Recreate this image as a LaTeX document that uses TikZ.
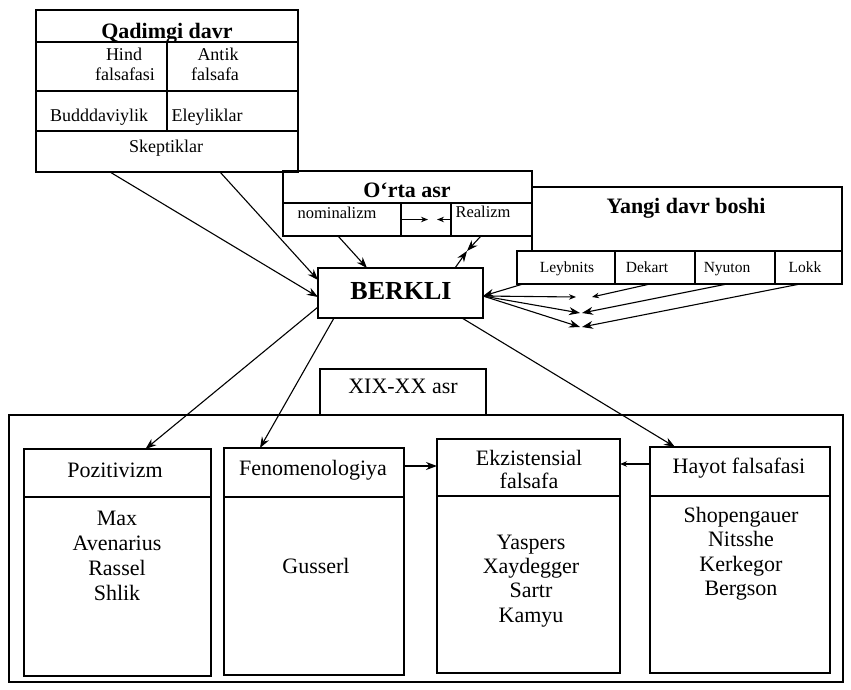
\documentclass[tikz,border=0pt]{standalone}
\usepackage{fontspec}
\setmainfont{Liberation Serif}
\usetikzlibrary{arrows.meta}
\begin{document}
\begin{tikzpicture}[x=1pt,y=-1pt,
  box/.style={draw, line width=1.3pt, inner sep=0pt, outer sep=0pt, anchor=north west},
  txt/.style={inner sep=0pt, anchor=base},
  arr/.style={line width=1.1pt, -{Stealth[length=11pt,width=8pt]}},
  sarr/.style={line width=1.1pt, -{Stealth[length=7pt,width=5.5pt]}},
  ttl/.style={font=\fontsize{22}{26}\selectfont\bfseries},
  qs/.style={font=\fontsize{18}{21}\selectfont},
  os/.style={font=\fontsize{16.5}{19}\selectfont},
  ys/.style={font=\fontsize{15.5}{18}\selectfont},
  bs/.style={font=\fontsize{22}{26}\selectfont}]
\useasboundingbox (0,0) rectangle (851,689);
% ---------- Qadimgi davr ----------
\node[box, minimum width=262pt, minimum height=32pt] (qT) at (36,10) {};
\node[box, minimum width=131pt, minimum height=49pt] (qHind) at (36,42) {};
\node[box, minimum width=131pt, minimum height=49pt] (qAnt) at (167,42) {};
\node[box, minimum width=131pt, minimum height=40pt] (qBud) at (36,91) {};
\node[box, minimum width=131pt, minimum height=40pt] (qEle) at (167,91) {};
\node[box, minimum width=262pt, minimum height=41pt] (skep) at (36,131) {};
\node[txt, ttl] (tQ) at (167,38) {Qadimgi davr};
\node[txt, qs] (tH1) at (124,60) {Hind};
\node[txt, qs] (tH2) at (125,80) {falsafasi};
\node[txt, qs] (tA1) at (218,60) {Antik};
\node[txt, qs] (tA2) at (215,80) {falsafa};
\node[txt, qs] (tB) at (99,121) {Budddaviylik};
\node[txt, qs] (tE) at (207,121) {Eleyliklar};
\node[txt, qs] (tS) at (166,152) {Skeptiklar};
% ---------- O'rta asr ----------
\node[box, minimum width=249pt, minimum height=32pt] (oT) at (283,171) {};
\node[box, minimum width=118pt, minimum height=33pt] (nom) at (283,203) {};
\node[box, minimum width=50pt, minimum height=33pt] (omid) at (401,203) {};
\node[box, minimum width=81pt, minimum height=33pt] (real) at (451,203) {};
\node[txt, ttl] (tO) at (407,197) {O‘rta asr};
\node[txt, os] (tN) at (337,218) {nominalizm};
\node[txt, os] (tR) at (483,217) {Realizm};
\coordinate (om1) at (428,219.5);
\coordinate (om2) at (437,219.5);
\draw[sarr] (omid.west) -- (om1);
\draw[sarr] (omid.east) -- (om2);
% ---------- Yangi davr boshi ----------
\node[box, minimum width=310pt, minimum height=64pt] (yT) at (532,187) {};
\node[box, minimum width=98pt, minimum height=33pt] (leyb) at (517,251) {};
\node[box, minimum width=80pt, minimum height=33pt] (dek) at (615,251) {};
\node[box, minimum width=80pt, minimum height=33pt] (nyu) at (695,251) {};
\node[box, minimum width=67pt, minimum height=33pt] (lokk) at (775,251) {};
\node[txt, font=\fontsize{22}{26}\selectfont\bfseries] (tY) at (686,213) {Yangi davr boshi};
\node[txt, ys] (tL) at (567,272) {Leybnits};
\node[txt, ys] (tD) at (647,272) {Dekart};
\node[txt, ys] (tNy) at (727,272) {Nyuton};
\node[txt, ys] (tLo) at (805,272) {Lokk};
% ---------- BERKLI ----------
\node[box, minimum width=165pt, minimum height=50pt] (berkli) at (318,268) {};
\node[txt, font=\fontsize{26}{30}\selectfont\bfseries] (tBe) at (401,299) {BERKLI};
% ---------- XIX-XX asr ----------
\node[box, minimum width=834pt, minimum height=267pt] (outer) at (9,415) {};
\node[box, minimum width=166pt, minimum height=46pt] (xix) at (320,369) {};
\node[txt, bs] (tX) at (403,393) {XIX-XX asr};
\node[box, minimum width=187pt, minimum height=48pt] (pozT) at (24,449) {};
\node[box, minimum width=187pt, minimum height=179pt] (pozC) at (24,497) {};
\node[box, minimum width=180pt, minimum height=49pt] (fenT) at (224,448) {};
\node[box, minimum width=180pt, minimum height=178pt] (fenC) at (224,497) {};
\node[box, minimum width=183pt, minimum height=57pt] (ekzT) at (437,439) {};
\node[box, minimum width=183pt, minimum height=177pt] (ekzC) at (437,496) {};
\node[box, minimum width=180pt, minimum height=49pt] (hayT) at (650,447) {};
\node[box, minimum width=180pt, minimum height=177pt] (hayC) at (650,496) {};
\node[txt, bs] (tP) at (115,477) {Pozitivizm};
\node[txt, bs] (tF) at (313,475) {Fenomenologiya};
\node[txt, bs] (tEk1) at (529,465) {Ekzistensial};
\node[txt, bs] (tEk2) at (529,488) {falsafa};
\node[txt, bs] (tHa) at (739,473) {Hayot falsafasi};
\foreach \n [count=\i] in {Max,Avenarius,Rassel,Shlik}
  \node[txt, bs] (p\i) at (117,{500+25*\i}) {\n};
\node[txt, bs] (g1) at (316,573) {Gusserl};
\foreach \n [count=\i] in {Yaspers,Xaydegger,Sartr,Kamyu}
  \node[txt, bs] (e\i) at (531,{525+24.3*\i}) {\n};
\foreach \n [count=\i] in {Shopengauer,Nitsshe,Kerkegor,Bergson}
  \node[txt, bs] (h\i) at (741,{497.5+24.5*\i}) {\n};
% ---------- connectors ----------
\draw[arr] ([xshift=-57pt]skep.south) -- ([yshift=-4pt]berkli.west);
\draw[arr] ([xshift=53pt]skep.south) -- ([yshift=13pt]berkli.west);
\draw[arr] ([xshift=-4pt]nom.south) -- ([xshift=49pt]berkli.north west);
\coordinate (mR) at (467,251);
\draw[arr] ([xshift=-10.5pt]real.south) -- (mR);
\draw[arr] ([xshift=137pt]berkli.north west) -- (mR);
\draw[arr] ([xshift=6pt]leyb.south west) -- ([yshift=-3pt]berkli.east);
\coordinate (dB) at (576,297);
\coordinate (dD) at (592,297);
\coordinate (nB) at (580,313);
\coordinate (nN) at (582,313);
\coordinate (lB) at (580,327);
\coordinate (lL) at (582,327);
\draw[sarr] ([xshift=35pt]dek.south west) -- (dD);
\draw[sarr] ([yshift=-3pt]berkli.east) -- (dB);
\draw[arr] ([xshift=32pt]nyu.south west) -- (nN);
\draw[arr] ([yshift=-3pt]berkli.east) -- (nB);
\draw[arr] ([xshift=25pt]lokk.south west) -- (lL);
\draw[arr] ([yshift=-3pt]berkli.east) -- (lB);
\draw[arr] ([yshift=-14pt]berkli.west) -- ([xshift=28pt]pozT.north);
\draw[arr] ([xshift=16pt]berkli.south west) -- ([xshift=-54pt]fenT.north);
\draw[arr] ([xshift=144pt]berkli.south west) -- ([xshift=-65pt]hayT.north);
\draw[arr] ([yshift=6.5pt]fenT.east) coordinate (f1) -- (f1 -| ekzT.west);
\draw[sarr] ([yshift=7.5pt]hayT.west) coordinate (h0) -- (h0 -| ekzT.east);
\end{tikzpicture}
\end{document}
